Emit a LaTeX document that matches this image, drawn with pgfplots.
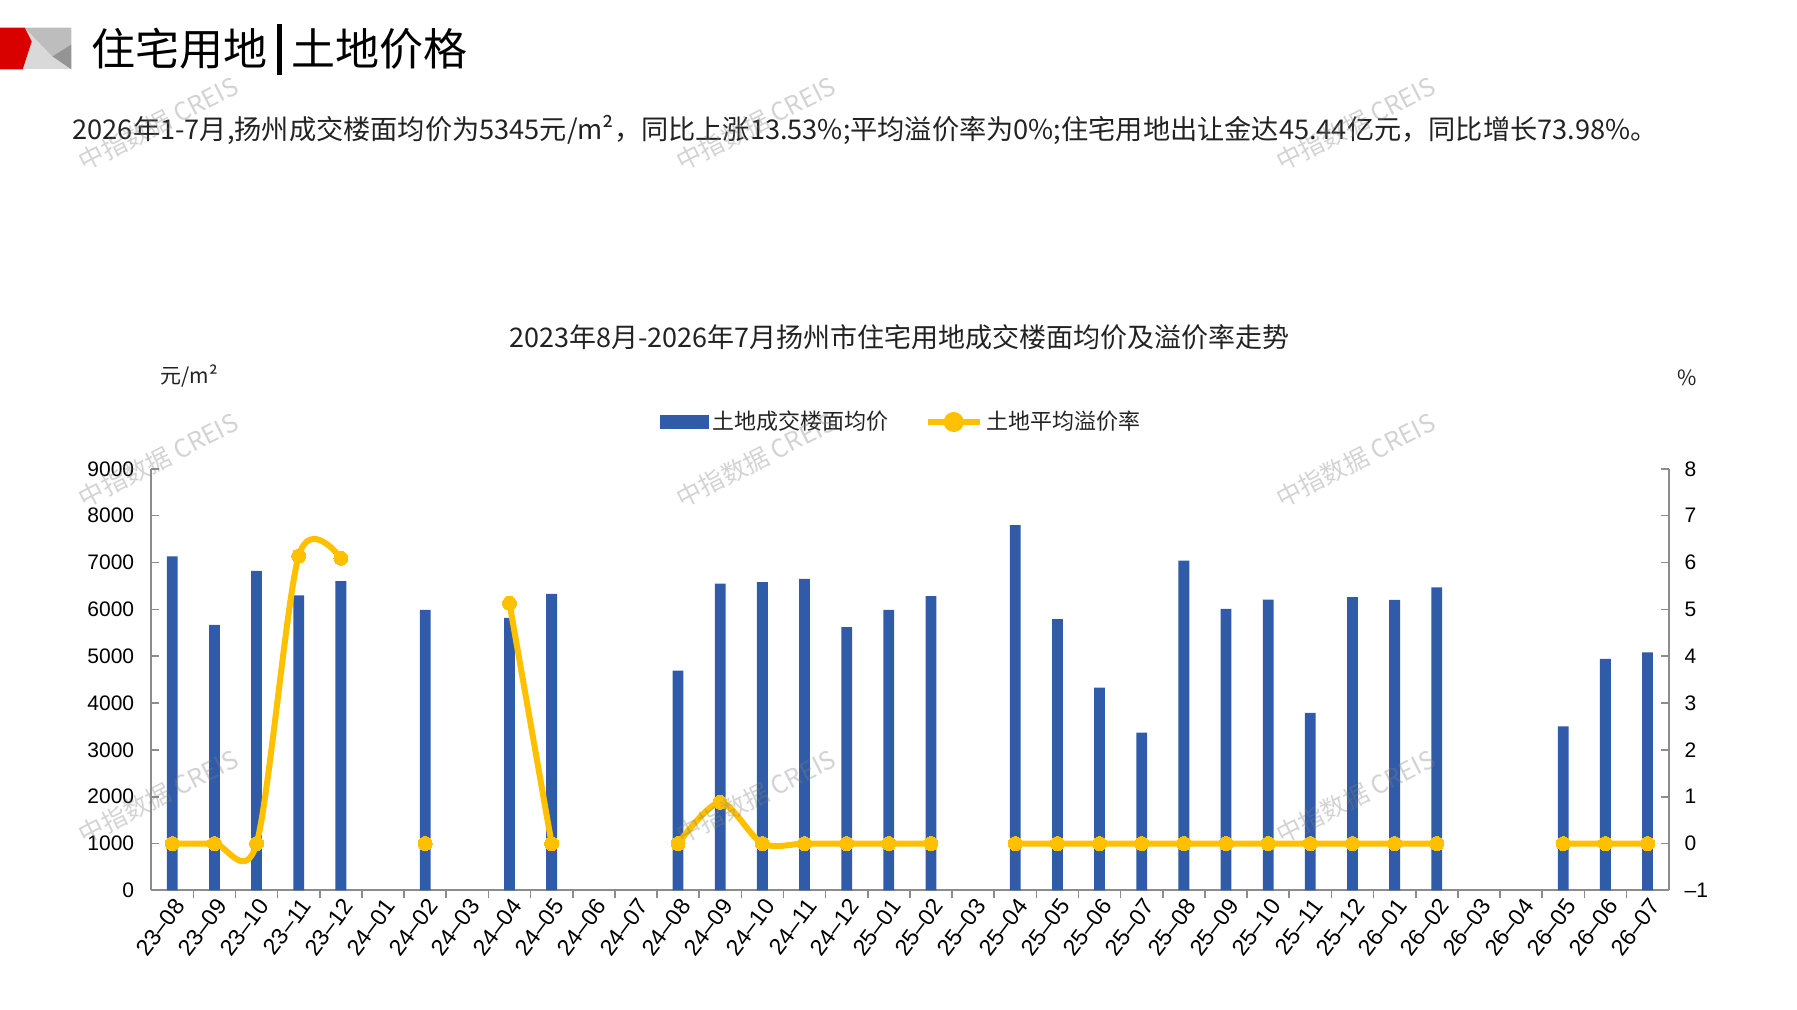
\documentclass[border=0pt]{standalone}
\usepackage{pgfplots}
\usepackage{pgfplotstable}
\pgfplotsset{compat=1.18}
\usepackage{fontspec}
\setmainfont{Noto Sans CJK SC}
\newfontfamily\numfont{Liberation Sans}
\definecolor{barblue}{HTML}{2F5BA8}
\definecolor{lineyel}{HTML}{FFC000}
\definecolor{axgray}{HTML}{8C8C8C}
\definecolor{txt}{HTML}{222222}

\pgfplotstableread{
x y
0 7130
1 5670
2 6820
3 6300
4 6600
6 5990
8 5820
9 6330
12 4690
13 6550
14 6580
15 6650
16 5620
17 5990
18 6280
20 7800
21 5790
22 4330
23 3370
24 7040
25 6010
26 6210
27 3790
28 6260
29 6200
30 6470
33 3500
34 4940
35 5080
}\bardata

\pgfplotstableread{
x y
0 0
1 0
2 0
3 6.14
4 6.09
5 nan
6 0
7 nan
8 5.13
9 0
10 nan
11 nan
12 0
13 0.88
14 0
15 0
16 0
17 0
18 0
19 nan
20 0
21 0
22 0
23 0
24 0
25 0
26 0
27 0
28 0
29 0
30 0
31 nan
32 nan
33 0
34 0
35 0
}\linedata

\begin{document}
\begin{tikzpicture}
\path[use as bounding box] (0,0) rectangle (898.5pt,505pt);
\begin{scope}[x=0.4948pt,y=-0.4948pt,shift={(0pt,505pt)}]
  % icon
  \fill[black!15] (23,28) rectangle (72,70);
  \fill[black!26] (25,28) -- (72,28) -- (72,45) -- (53,57) -- cycle;
  \fill[black!42] (53,57) -- (72,45) -- (72,70) -- cycle;
  \fill[red!85!black] (0,28) -- (25,28) -- (32,42) -- (23,70) -- (0,70) -- cycle;
  % titles
  \node[anchor=west, inner sep=0pt, font=\fontsize{22pt}{26pt}\selectfont, text=black] at (92,50)
    {住宅用地\kern5pt\rule[-0.2em]{2.2pt}{1.15em}\kern5pt 土地价格};
  \node[anchor=west, inner sep=0pt, font=\fontsize{13.6pt}{15pt}\selectfont, text=txt] at (73,131)
    {2026年1-7月,扬州成交楼面均价为5345元/m²，同比上涨13.53\%;平均溢价率为0\%;住宅用地出让金达45.44亿元，同比增长73.98\%。};
  \node[inner sep=0pt, font=\fontsize{13.5pt}{16pt}\selectfont, text=txt] at (909,341)
    {2023年8月-2026年7月扬州市住宅用地成交楼面均价及溢价率走势};
  \node[anchor=west, inner sep=0pt, font=\fontsize{10.5pt}{12pt}\selectfont, text=txt] at (162,380) {元/m²};
  \node[inner sep=0pt, font=\fontsize{10.5pt}{12pt}\selectfont, text=txt] at (1705,382) {\%};
\end{scope}

\begin{axis}[
  at={(75.6pt,59.8pt)}, anchor=south west,
  scale only axis, width=758.7pt, height=210.8pt,
  xmin=-0.5, xmax=35.5, ymin=0, ymax=9000,
  axis x line*=bottom, axis y line*=left,
  axis line style={axgray, line width=0.9pt},
  tick align=inside,
  xtick={0,...,35},
  major x tick style={draw=none},
  minor x tick num=1,
  minor tick length=4pt,
  minor x tick style={axgray, line width=0.8pt},
  ytick={0,1000,...,9000},
  major tick length=4pt,
  major y tick style={axgray, line width=0.8pt},
  xticklabels={23–08,23–09,23–10,23–11,23–12,24–01,24–02,24–03,24–04,24–05,24–06,24–07,24–08,24–09,24–10,24–11,24–12,25–01,25–02,25–03,25–04,25–05,25–06,25–07,25–08,25–09,25–10,25–11,25–12,26–01,26–02,26–03,26–04,26–05,26–06,26–07},
  xticklabel style={rotate=53, anchor=east, inner sep=1pt, yshift=-4pt, xshift=2pt, font=\numfont\fontsize{11.5pt}{13pt}\selectfont},
  yticklabel style={xshift=-5pt, font=\numfont\fontsize{10.5pt}{12pt}\selectfont},
  /pgf/number format/1000 sep={},
  /pgf/number format/assume math mode=true,
  ybar, bar width=5.4pt,
]
\addplot[fill=barblue, draw=none] table[x=x,y=y] {\bardata};
\end{axis}

\begin{axis}[
  at={(75.6pt,59.8pt)}, anchor=south west,
  scale only axis, width=758.7pt, height=210.8pt,
  xmin=-0.5, xmax=35.5, ymin=-1, ymax=8,
  axis x line=none, axis y line*=right,
  axis line style={axgray, line width=0.9pt},
  tick align=inside,
  ytick={-1,0,...,8},
  yticklabels={–1,0,1,2,3,4,5,6,7,8},
  major tick length=4pt,
  major y tick style={axgray, line width=0.8pt},
  yticklabel style={xshift=4.5pt, font=\numfont\fontsize{10.5pt}{12pt}\selectfont},
  unbounded coords=jump,
  legend style={at={(0.495,1.111)}, anchor=center, draw=none, fill=none,
    legend columns=2, font=\fontsize{11pt}{13pt}\selectfont, text=txt,
    /tikz/every even column/.append style={column sep=16pt}},
]
\addlegendimage{legend image code/.code={\fill[barblue] (0pt,-3.3pt) rectangle (24pt,3.3pt);}}
\addlegendentry{土地成交楼面均价}
\addplot[lineyel, line width=3pt, smooth, tension=0.5, mark=*, mark size=3.5pt,
  mark options={fill=lineyel, draw=lineyel, line width=0pt},
  legend image code/.code={\draw[lineyel, line width=3pt] (0pt,0pt) -- (26pt,0pt); \fill[lineyel] (13pt,0pt) circle (3.5pt);}]
  table[x=x,y=y] {\linedata};
\addlegendentry{土地平均溢价率}
\end{axis}

\begin{scope}[x=0.4948pt,y=-0.4948pt,shift={(0pt,505pt)}]
  \foreach \xx in {160,764,1370}{
    \foreach \yy in {125,465,805}{
      \node[rotate=27, text=gray, opacity=0.35, font=\fontsize{12.5pt}{14pt}\selectfont] at (\xx,\yy) {中指数据 CREIS};
    }
  }
\end{scope}
\end{tikzpicture}
\end{document}
